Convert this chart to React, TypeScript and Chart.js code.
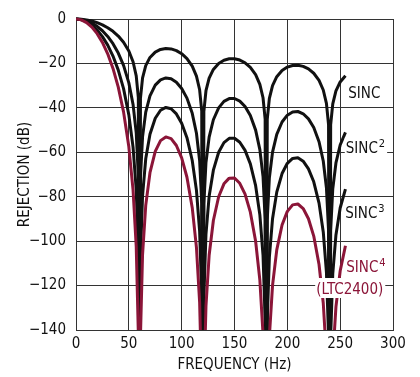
import React, { useEffect, useRef } from 'react';
import { Chart, registerables } from 'chart.js';

Chart.register(...registerables);

// Frequency samples (Hz)
const FREQ_HZ = [
  0, 5, 10, 15, 20, 25, 30, 35, 40, 45, 50, 54, 57, 59, 60, 61, 63, 66, 70, 75, 80, 85, 90, 95, 100,
  105, 110, 114, 117, 119, 120, 121, 123, 126, 130, 135, 140, 145, 150, 155, 160, 165, 170, 174, 177,
  179, 180, 181, 183, 186, 190, 195, 200, 205, 210, 215, 220, 225, 230, 234, 237, 239, 240, 241, 243,
  246, 250, 255,
];

// Rejection (dB)
const SINC_DB = [
  0, -0.1, -0.4, -0.91, -1.65, -2.64, -3.92, -5.56, -7.67, -10.45, -14.38, -19.23, -25.61, -35.42, -300,
  -35.71, -26.48, -20.97, -17.3, -14.89, -13.69, -13.27, -13.46, -14.24, -15.63, -17.81, -21.23, -25.72,
  -31.86, -41.51, -300, -41.66, -32.29, -26.59, -22.68, -20.0, -18.55, -17.91, -17.9, -18.49, -19.71,
  -21.74, -25.01, -29.39, -35.45, -45.06, -300, -45.16, -35.74, -29.97, -25.98, -23.19, -21.65, -20.92,
  -20.82, -21.33, -22.48, -24.43, -27.63, -31.96, -37.99, -47.57, -300, -47.64, -38.21, -32.4, -28.36,
  -25.52,
];
const SINC2_DB = [
  0, -0.2, -0.8, -1.82, -3.3, -5.28, -7.84, -11.12, -15.34, -20.9, -28.76, -38.46, -51.22, -70.84, -300,
  -71.42, -52.96, -41.94, -34.6, -29.78, -27.38, -26.54, -26.92, -28.48, -31.26, -35.62, -42.46, -51.44,
  -63.72, -83.02, -300, -83.32, -64.58, -53.18, -45.36, -40.0, -37.1, -35.82, -35.8, -36.98, -39.42,
  -43.48, -50.02, -58.78, -70.9, -90.12, -300, -90.32, -71.48, -59.94, -51.96, -46.38, -43.3, -41.84,
  -41.64, -42.66, -44.96, -48.86, -55.26, -63.92, -75.98, -95.14, -300, -95.28, -76.42, -64.8, -56.72,
  -51.04,
];
const SINC3_DB = [
  0, -0.3, -1.2, -2.73, -4.95, -7.92, -11.76, -16.68, -23.01, -31.35, -43.14, -57.69, -76.83, -106.26,
  -300, -107.13, -79.44, -62.91, -51.9, -44.67, -41.07, -39.81, -40.38, -42.72, -46.89, -53.43, -63.69,
  -77.16, -95.58, -124.53, -300, -124.98, -96.87, -79.77, -68.04, -60.0, -55.65, -53.73, -53.7, -55.47,
  -59.13, -65.22, -75.03, -88.17, -106.35, -135.18, -300, -135.48, -107.22, -89.91, -77.94, -69.57,
  -64.95, -62.76, -62.46, -63.99, -67.44, -73.29, -82.89, -95.88, -113.97, -142.71, -300, -142.92,
  -114.63, -97.2, -85.08, -76.56,
];
const SINC4_DB = [
  0, -0.4, -1.6, -3.64, -6.6, -10.56, -15.68, -22.24, -30.68, -41.8, -57.52, -76.92, -102.44, -141.68,
  -300, -142.84, -105.92, -83.88, -69.2, -59.56, -54.76, -53.08, -53.84, -56.96, -62.52, -71.24, -84.92,
  -102.88, -127.44, -166.04, -300, -166.64, -129.16, -106.36, -90.72, -80.0, -74.2, -71.64, -71.6,
  -73.96, -78.84, -86.96, -100.04, -117.56, -141.8, -180.24, -300, -180.64, -142.96, -119.88, -103.92,
  -92.76, -86.6, -83.68, -83.28, -85.32, -89.92, -97.72, -110.52, -127.84, -151.96, -190.28, -300,
  -190.56, -152.84, -129.6, -113.44, -102.08,
];

const CURVE_NAMES = ['SINC', 'SINC', 'SINC', 'SINC'];
const CURVE_POWERS = ['', '2', '3', '4'];
const SUBTITLE = '(LTC2400)';

const FONT = '"DejaVu Sans Condensed", "DejaVu Sans", sans-serif';
const FONT_SIZE = 15;
const RED = '#8b1538';
const INK = '#111';

// label anchor points in data units (freq Hz, dB)
const LABEL_ANCHORS = [
  { x: 257.7, y: -33.2, color: INK },
  { x: 255.3, y: -57.9, color: INK },
  { x: 254.8, y: -87.3, color: INK },
  { x: 255.8, y: -111.6, color: RED },
];
const SUB_ANCHOR = { x: 227.3, y: -121.1, color: RED };

export default function App() {
  const ref = useRef<HTMLCanvasElement>(null);

  useEffect(() => {
    const canvas = ref.current;
    if (!canvas) return;
    const pts = (arr: number[]) => FREQ_HZ.map((x, i) => ({ x, y: arr[i] }));

    const mainFont = `${FONT_SIZE}px ${FONT}`;
    const supFont = `11px ${FONT}`;

    const layoutLabels = (chart: any) => {
      const ctx = chart.ctx as CanvasRenderingContext2D;
      const xs = chart.scales.x;
      const ys = chart.scales.y;
      const items: any[] = [];
      LABEL_ANCHORS.forEach((a, i) => {
        const px = xs.getPixelForValue(a.x);
        const cy = ys.getPixelForValue(a.y);
        ctx.font = mainFont;
        const w1 = ctx.measureText(CURVE_NAMES[i]).width;
        ctx.font = supFont;
        const w2 = CURVE_POWERS[i] ? ctx.measureText(CURVE_POWERS[i]).width + 1 : 0;
        items.push({ px, cy, w1, w2, text: CURVE_NAMES[i], sup: CURVE_POWERS[i], color: a.color });
      });
      const px = xs.getPixelForValue(SUB_ANCHOR.x);
      const cy = ys.getPixelForValue(SUB_ANCHOR.y);
      ctx.font = mainFont;
      const w1 = ctx.measureText(SUBTITLE).width;
      items.push({ px, cy, w1, w2: 0, text: SUBTITLE, sup: '', color: SUB_ANCHOR.color });
      return items;
    };

    const labelPlugin = {
      id: 'curveLabels',
      afterDatasetsDraw(chart: any) {
        const ctx = chart.ctx as CanvasRenderingContext2D;
        const items = layoutLabels(chart);
        ctx.save();
        ctx.fillStyle = '#fff';
        items.forEach((it) => {
          ctx.fillRect(it.px - 1, it.cy - 10, it.w1 + it.w2 + 3, 20);
        });
        ctx.textBaseline = 'alphabetic';
        ctx.textAlign = 'left';
        items.forEach((it) => {
          const base = it.cy + 5.5;
          ctx.fillStyle = it.color;
          ctx.font = mainFont;
          ctx.fillText(it.text, it.px, base);
          if (it.sup) {
            ctx.font = supFont;
            ctx.fillText(it.sup, it.px + it.w1 + 1, base - 6.5);
          }
        });
        ctx.restore();
      },
    };

    const lineStyle = {
      borderWidth: 3,
      pointRadius: 0,
      tension: 0,
      fill: false,
      borderJoinStyle: 'round' as const,
      clip: { left: 0, top: 5, right: 5, bottom: 0 },
    };

    const tickFont = { family: FONT, size: FONT_SIZE };

    const chart = new Chart(canvas, {
      type: 'line',
      data: {
        datasets: [
          { label: 'SINC4', data: pts(SINC4_DB), borderColor: RED, ...lineStyle },
          { label: 'SINC3', data: pts(SINC3_DB), borderColor: INK, ...lineStyle },
          { label: 'SINC2', data: pts(SINC2_DB), borderColor: INK, ...lineStyle },
          { label: 'SINC', data: pts(SINC_DB), borderColor: INK, ...lineStyle },
        ],
      },
      options: {
        animation: false,
        responsive: true,
        maintainAspectRatio: false,
        layout: { padding: { left: 0, top: 13, right: 27, bottom: 0 } },
        plugins: { legend: { display: false }, tooltip: { enabled: false } },
        scales: {
          x: {
            type: 'linear',
            min: 0,
            max: 300,
            ticks: { stepSize: 50, color: INK, font: tickFont, padding: 5, maxRotation: 0 },
            grid: { color: '#333', lineWidth: 1, drawTicks: false },
            border: { color: '#333', width: 1 },
            title: {
              display: true,
              text: 'FREQUENCY (Hz)',
              color: INK,
              font: tickFont,
              padding: { top: 0, bottom: 3 },
            },
            afterFit: (s: any) => { s.height = 47; },
          },
          y: {
            type: 'linear',
            min: -140,
            max: 0,
            ticks: {
              stepSize: 20,
              color: INK,
              font: tickFont,
              padding: 10,
              callback: (v: any) => (Number(v) < 0 ? '\u2212' + Math.abs(Number(v)) : String(v)),
            },
            grid: { color: '#333', lineWidth: 1, drawTicks: false },
            border: { color: '#333', width: 1 },
            title: {
              display: true,
              text: 'REJECTION (dB)',
              color: INK,
              font: tickFont,
              padding: { top: 16, bottom: 0 },
            },
            afterFit: (s: any) => { s.width = 76; },
          },
        },
      },
      plugins: [labelPlugin],
    });
    return () => chart.destroy();
  }, []);

  return (
    <div style={{ position: 'fixed', left: 0, top: 0, width: 420, height: 377, background: '#fff' }}>
      <canvas ref={ref} />
    </div>
  );
}
